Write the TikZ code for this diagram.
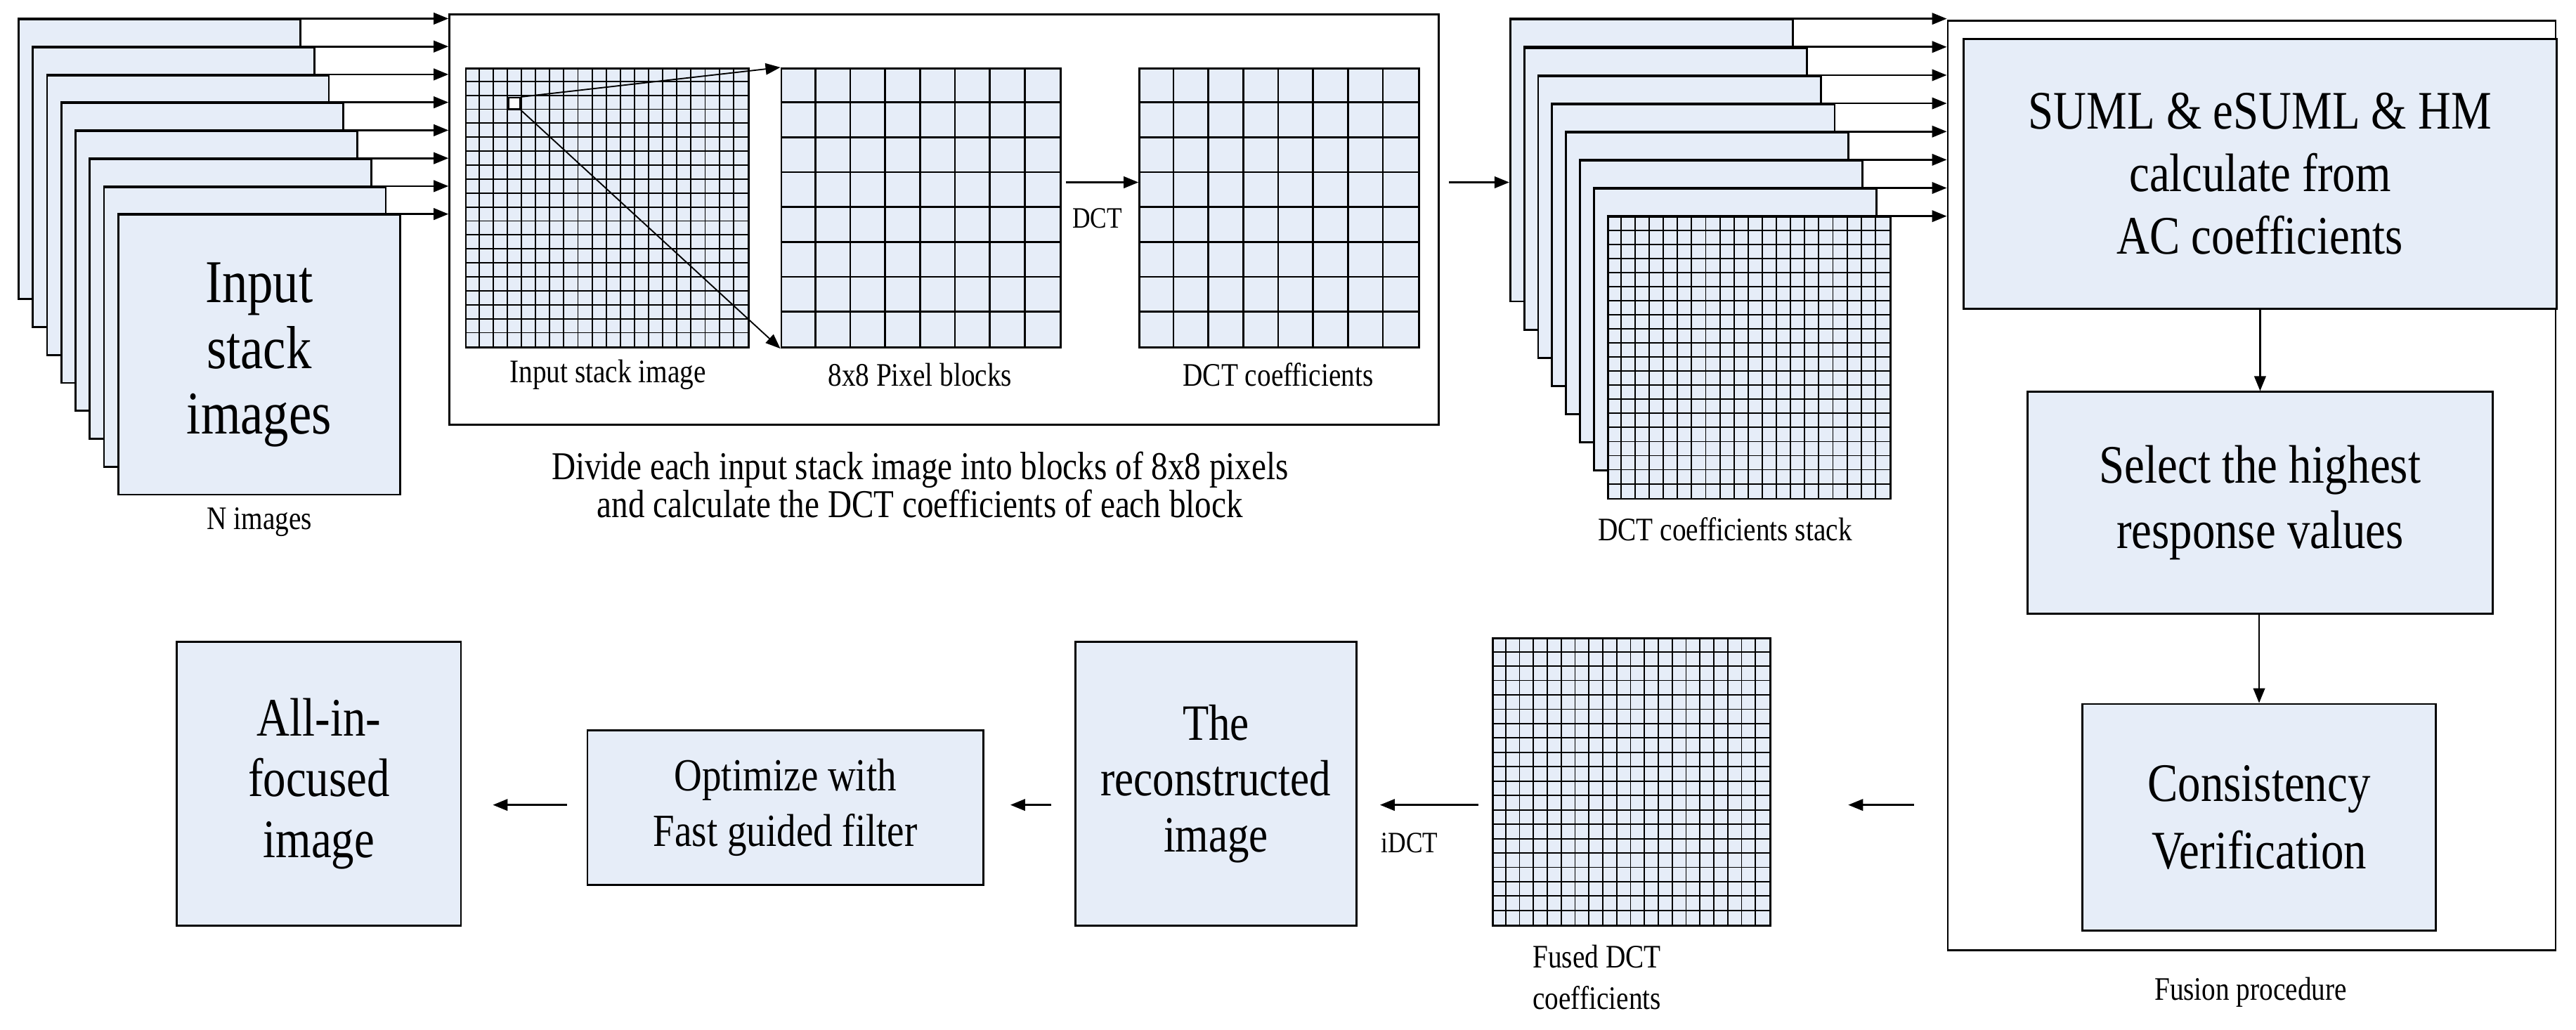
\documentclass[tikz,border=0pt]{standalone}
\usepackage{fontspec}
\setmainfont{Liberation Serif}[FakeStretch=0.84]
\usetikzlibrary{arrows.meta,calc}
\definecolor{fillb}{HTML}{E6EDF8}
\begin{document}
\begin{tikzpicture}[x=1pt,y=-1pt,line width=1.2pt,
  box/.style={draw,fill=fillb,inner sep=0pt,anchor=north west},
  frame/.style={draw,inner sep=0pt,anchor=north west},
  arr/.style={-{Triangle[length=9pt,width=7pt]}},
  lab/.style={font=\fontsize{20}{22}\selectfont,align=center},
  big/.style={align=center}]
\useasboundingbox (0,0) rectangle (1568,627);
% ---- input stack
\node[frame,minimum width=602,minimum height=250] (inbox) at (273,8) {};
\foreach \i in {0,...,7}{
  \node[box,minimum width=171.5,minimum height=170.2] (s\i) at ({10.7+8.67*\i},{11.3+17*\i}) {};
  \draw[arr] (s\i.north west) -- (s\i.north west -| inbox.west);
}
\node[big,font=\fontsize{37}{40}\selectfont] (intxt) at (s7.center) {Input\\stack\\images};
\node[lab] (nimg) at (158,318) {N images};
% ---- grids inside box
\node[box,minimum width=172,minimum height=170] (g1) at (283,41) {};
\foreach \k in {1,...,19}{
  \draw[line width=0.8pt] ($(g1.north west)+(\k*8.6,0)$) -- ($(g1.south west)+(\k*8.6,0)$);
  \draw[line width=0.8pt] ($(g1.north west)+(0,\k*8.5)$) -- ($(g1.north east)+(0,\k*8.5)$);
}
\node[box,minimum width=170,minimum height=170] (g2) at (475,41) {};
\node[box,minimum width=170,minimum height=170] (g3) at (693,41) {};
\foreach \g in {g2,g3}{
  \foreach \k in {1,...,7}{
    \draw ($(\g.north west)+(\k*21.25,0)$) -- ($(\g.south west)+(\k*21.25,0)$);
    \draw ($(\g.north west)+(0,\k*21.25)$) -- ($(\g.north east)+(0,\k*21.25)$);
  }
}
\node[frame,fill=white,minimum width=7,minimum height=7,line width=1pt] (sq) at (309,59) {};
\draw[arr,line width=0.8pt] (sq.north east) -- (g2.north west);
\draw[arr,line width=0.8pt] (sq.south east) -- (g2.south west);
\coordinate (d1) at (649,111);
\draw[arr] (d1) -- (g3.west |- d1);
\node[font=\fontsize{18}{20}\selectfont] (dct) at (668,133) {DCT};
\node[lab] at (370,228) {Input stack image};
\node[lab] at (560,228) {8x8 Pixel blocks};
\node[lab] at (778,228) {DCT coefficients};
\node[align=center,font=\fontsize{24}{23}\selectfont] (cap) at (560,295) {Divide each input stack image into blocks of 8x8 pixels\\and calculate the DCT coefficients of each block};
% ---- DCT stack
\node[frame,minimum width=370,minimum height=566] (fus) at (1185,12) {};
\foreach \i in {0,...,7}{
  \node[box,minimum width=172,minimum height=171.5] (t\i) at ({918.7+8.48*\i},{11.4+17.17*\i}) {};
  \draw[arr] (t\i.north west) -- (t\i.north west -| fus.west);
}
\foreach \k in {1,...,19}{
  \draw[line width=0.8pt] ($(t7.north west)+(\k*8.6,0)$) -- ($(t7.south west)+(\k*8.6,0)$);
  \draw[line width=0.8pt] ($(t7.north west)+(0,\k*8.575)$) -- ($(t7.north east)+(0,\k*8.575)$);
}
\coordinate (a1) at (882,111);
\draw[arr] (a1) -- (t0.west |- a1);
\node[lab] at (1050,322) {DCT coefficients stack};
% ---- fusion procedure
\node[box,minimum width=361,minimum height=164.5] (f1) at (1194.6,23) {};
\node[big,font=\fontsize{33}{38}\selectfont] at (f1.center) {SUML \& eSUML \& HM\\calculate from\\AC coefficients};
\node[box,minimum width=283,minimum height=135] (f2) at (1233.6,238) {};
\node[big,font=\fontsize{33}{40}\selectfont] at (f2.center) {Select the highest\\response values};
\node[box,minimum width=215,minimum height=138] (f3) at (1267,428) {};
\node[big,font=\fontsize{33}{41}\selectfont] at (f3.center) {Consistency\\Verification};
\draw[arr] (f1.south -| f2.north) -- (f2.north);
\draw[arr] (f2.south -| f3.north) -- (f3.north);
\node[lab] at (1370,604) {Fusion procedure};
% ---- bottom row
\node[box,minimum width=169,minimum height=175] (fd) at (908,388) {};
\foreach \k in {1,...,19}{
  \draw[line width=0.8pt] ($(fd.north west)+(\k*8.45,0)$) -- ($(fd.south west)+(\k*8.45,0)$);
  \draw[line width=0.8pt] ($(fd.north west)+(0,\k*8.75)$) -- ($(fd.north east)+(0,\k*8.75)$);
}
\node[lab,font=\fontsize{20}{25}\selectfont] at (972,595) {Fused DCT\\coefficients};
\node[box,minimum width=171,minimum height=173] (rec) at (654,390) {};
\node[big,font=\fontsize{31}{34}\selectfont] at (rec.center) {The\\reconstructed\\image};
\node[box,minimum width=241,minimum height=94] (opt) at (357,444) {};
\node[big,font=\fontsize{28}{34}\selectfont] at (opt.center) {Optimize with\\Fast guided filter};
\node[box,minimum width=173,minimum height=173] (aif) at (107,390) {};
\node[big,font=\fontsize{33}{37}\selectfont] at (aif.center) {All-in-\\focused\\image};
\coordinate (b1) at (1165,490);
\coordinate (b2) at (1125,490);
\draw[arr] (b1) -- (b2);
\coordinate (c1) at (900,490);
\coordinate (c2) at (840,490);
\draw[arr] (c1) -- (c2);
\node[font=\fontsize{18}{20}\selectfont] (idct) at (858,513) {iDCT};
\coordinate (e1) at (640,490);
\coordinate (e2) at (615,490);
\draw[arr] (e1) -- (e2);
\coordinate (h1) at (345,490);
\coordinate (h2) at (300,490);
\draw[arr] (h1) -- (h2);
\end{tikzpicture}
\end{document}
